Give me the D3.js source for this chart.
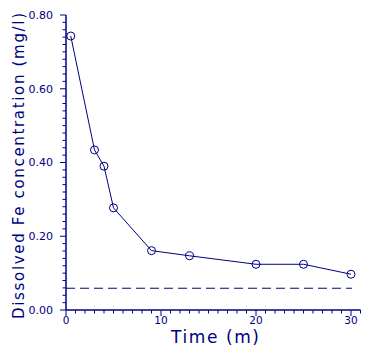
<!DOCTYPE html>
<html>
<head>
<meta charset="utf-8">
<script src="https://cdn.jsdelivr.net/npm/d3@7"></script>
<style>
  body { margin: 0; background: #fff; }
  text { font-family: "DejaVu Sans", sans-serif; fill: #000080; }
</style>
</head>
<body>
<script>
// data
const times = [0.5, 3, 4, 5, 9, 13, 20, 25, 30];
const feConc = [0.743, 0.434, 0.39, 0.277, 0.161, 0.147, 0.124, 0.124, 0.097];
const refLevel = 0.059;
const xTicks = [0, 10, 20, 30];
const yTicks = [0, 0.2, 0.4, 0.6, 0.8];

const outerWidth = 371, outerHeight = 353;
const col = "#000080";

const svg = d3.select("body").append("svg")
    .attr("width", outerWidth)
    .attr("height", outerHeight);

const x = d3.scaleLinear().domain([0, 31]).range([66, 360.5]);
const y = d3.scaleLinear().domain([0, 0.8]).range([310, 15]);

// y axis
const gy = svg.append("g").attr("stroke", col).attr("stroke-width", 1.5);
gy.append("line").attr("x1", 66).attr("x2", 66).attr("y1", y(0)).attr("y2", y(0.8));
d3.range(0, 41).forEach(i => {
    const v = i * 0.02;
    const major = i % 10 === 0;
    gy.append("line")
      .attr("x1", 66).attr("x2", major ? 60 : 62.5)
      .attr("y1", y(v)).attr("y2", y(v))
      .attr("stroke-width", 1);
});
svg.selectAll(".ylab").data(yTicks).join("text")
    .attr("class", "ylab")
    .attr("x", 53).attr("y", d => y(d))
    .attr("dy", "0.36em")
    .attr("text-anchor", "end")
    .attr("font-size", 11)
    .text(d => d3.format(".2f")(d));

// x axis
const gx = svg.append("g").attr("stroke", col).attr("stroke-width", 1.5);
gx.append("line").attr("x1", x(0)).attr("x2", x(31)).attr("y1", 310).attr("y2", 310);
d3.range(0, 32).forEach(i => {
    const major = i % 10 === 0;
    gx.append("line")
      .attr("x1", x(i)).attr("x2", x(i))
      .attr("y1", 310).attr("y2", major ? 316 : 313.5)
      .attr("stroke-width", 1);
});
svg.selectAll(".xlab").data(xTicks).join("text")
    .attr("class", "xlab")
    .attr("x", d => x(d)).attr("y", 320)
    .attr("dy", "0.36em")
    .attr("text-anchor", "middle")
    .attr("font-size", 10.5)
    .text(d => d);

// titles
svg.append("text")
    .attr("x", 215).attr("y", 343)
    .attr("text-anchor", "middle")
    .attr("font-size", 17)
    .attr("textLength", 88).attr("lengthAdjust", "spacing")
    .text("Time  (m)");

svg.append("text")
    .attr("transform", "translate(24,166) rotate(-90)")
    .attr("text-anchor", "middle")
    .attr("font-size", 15)
    .attr("textLength", 306).attr("lengthAdjust", "spacing")
    .text("Dissolved Fe concentration (mg/l)");

// reference dashed line
svg.append("line")
    .attr("x1", x(0)).attr("x2", x(30.1))
    .attr("y1", y(refLevel)).attr("y2", y(refLevel))
    .attr("stroke", col).attr("stroke-width", 1)
    .attr("stroke-dasharray", "9,5");

// data line and markers
const pts = times.map((t, i) => [t, feConc[i]]);
svg.append("path")
    .datum(pts)
    .attr("d", d3.line().x(d => x(d[0])).y(d => y(d[1])))
    .attr("fill", "none")
    .attr("stroke", col)
    .attr("stroke-width", 1);

svg.selectAll("circle").data(pts).join("circle")
    .attr("cx", d => x(d[0])).attr("cy", d => y(d[1]))
    .attr("r", 4)
    .attr("fill", "none")
    .attr("stroke", col)
    .attr("stroke-width", 1);
</script>
</body>
</html>
